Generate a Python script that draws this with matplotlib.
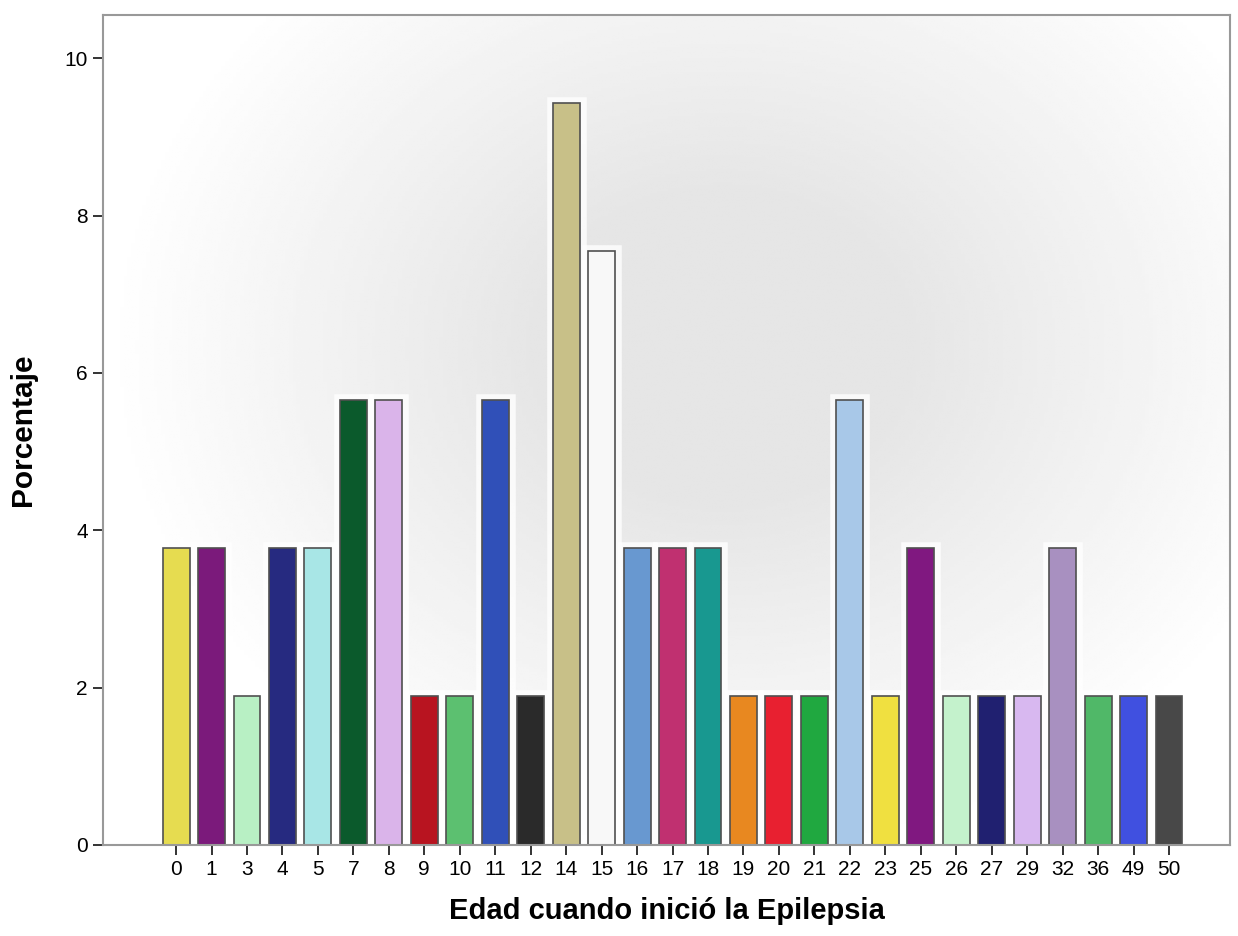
import numpy as np
import matplotlib.pyplot as plt
import matplotlib.patheffects as pe

# edad de inicio y porcentaje de pacientes (n = 53)
edades = ['0', '1', '3', '4', '5', '7', '8', '9', '10', '11', '12', '14', '15', '16',
          '17', '18', '19', '20', '21', '22', '23', '25', '26', '27', '29', '32', '36',
          '49', '50']
porcentaje = [3.77, 3.77, 1.89, 3.77, 3.77, 5.66, 5.66, 1.89, 1.89, 5.66, 1.89, 9.43,
              7.55, 3.77, 3.77, 3.77, 1.89, 1.89, 1.89, 5.66, 1.89, 3.77, 1.89, 1.89,
              1.89, 3.77, 1.89, 1.89, 1.89]
colores = ['#e6dc50', '#7b1a7b', '#b8f0c4', '#262a80', '#a8e6e6', '#0b5a2c', '#dab4ea',
           '#b81420', '#5cc070', '#3050b8', '#2a2a2a', '#c8c088', '#f8f8f8', '#6898d0',
           '#c03070', '#189890', '#e88820', '#e82030', '#20a840', '#a8c8e8', '#f0e040',
           '#801880', '#c4f2cc', '#202070', '#d8b8f0', '#a890c0', '#50b868', '#4050e0',
           '#484848']

plt.rcParams['font.family'] = ['Liberation Sans', 'DejaVu Sans']

fig = plt.figure(figsize=(12.38, 9.36), dpi=100)
ax = fig.add_axes([103 / 1238, 1 - 845 / 936, (1230 - 103) / 1238, (845 - 15) / 936])

x = np.arange(len(edades))
xmin, xmax = -2.06, len(edades) - 1 + 1.72
ymin, ymax = 0, 10.55

# fondo gris con degradado radial, más oscuro arriba al centro
gx, gy = np.meshgrid(np.linspace(0, 1, 300), np.linspace(0, 1, 300))
r = np.sqrt(((gx - 0.55) / 0.55) ** 2 + ((gy - 0.40) / 0.62) ** 2)
fondo = np.clip(0.90 + 0.10 * (r - 0.3) / 0.7, 0.90, 1.0)
ax.imshow(fondo, cmap='gray', vmin=0, vmax=1, extent=(xmin, xmax, ymin, ymax),
          aspect='auto', origin='upper', zorder=0, interpolation='bilinear')

bars = ax.bar(x, porcentaje, width=0.76, color=colores, edgecolor='#505050',
              linewidth=1.2, zorder=2)
for b in bars:
    b.set_path_effects([pe.Stroke(linewidth=9, foreground='white', alpha=0.8),
                        pe.Normal()])

ax.set_xlim(xmin, xmax)
ax.set_ylim(ymin, ymax)
ax.set_xticks(x)
ax.set_xticklabels(edades)
ax.set_yticks([0, 2, 4, 6, 8, 10])
ax.tick_params(axis='both', labelsize=15, direction='out', length=7, width=1.4,
               color='#333333', pad=4)
for s in ax.spines.values():
    s.set_color('#999999')
    s.set_linewidth(1.5)

ax.set_xlabel('Edad cuando inició la Epilepsia', fontsize=21, fontweight='bold',
              labelpad=13)
ax.set_ylabel('Porcentaje', fontsize=21.5, fontweight='bold', labelpad=20)

fig.savefig('out.png', dpi=100)
